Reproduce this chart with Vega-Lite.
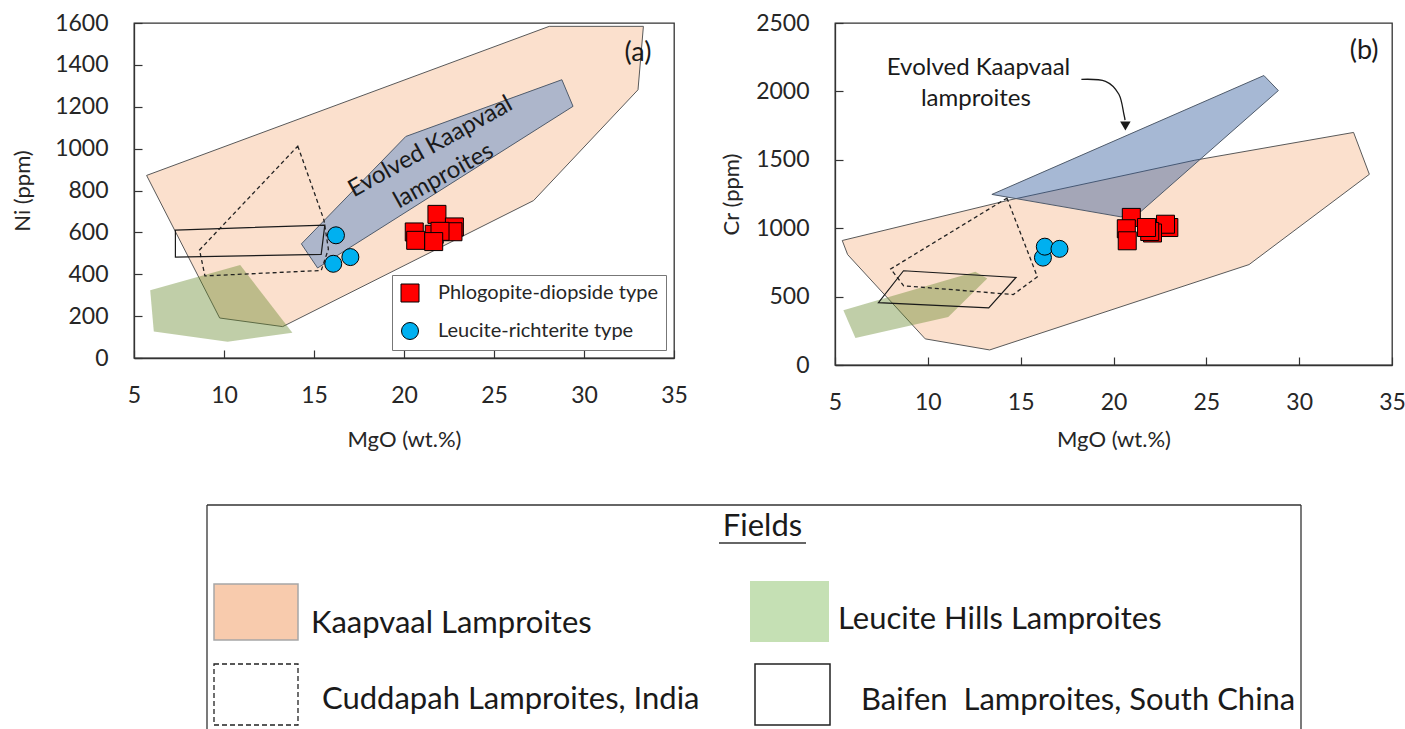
{
"$schema":"https://vega.github.io/schema/vega-lite/v6.json",
"padding":{"left":10,"top":11,"right":0,"bottom":0},
"config":{
 "font":"Lato",
 "view":{"stroke":"#333333","strokeWidth":1.3},
 "axis":{"grid":false,"domainColor":"#333333","domainWidth":1.3,"tickColor":"#333333","tickWidth":1.2,"tickSize":-8,"labelFont":"Lato","labelFontSize":23,"labelColor":"#262626","titleFont":"Lato","titleFontSize":22,"titleFontWeight":"normal","titleColor":"#262626","labelFlush":false,"labelOverlap":false,"labelPadding":34,"format":"d"}
},
"datasets":{
 "polyA":[
  {"p":"K","i":0,"mgo":5.7,"ni":872},{"p":"K","i":1,"mgo":28.07,"ni":1584},{"p":"K","i":2,"mgo":33.3,"ni":1584},{"p":"K","i":3,"mgo":33.0,"ni":1281},{"p":"K","i":4,"mgo":27.2,"ni":752},{"p":"K","i":5,"mgo":13.26,"ni":150},{"p":"K","i":6,"mgo":9.76,"ni":191},
  {"p":"L","i":0,"mgo":5.9,"ni":323},{"p":"L","i":1,"mgo":10.9,"ni":444},{"p":"L","i":2,"mgo":13.8,"ni":121},{"p":"L","i":3,"mgo":10.2,"ni":78},{"p":"L","i":4,"mgo":6.1,"ni":126},
  {"p":"E","i":0,"mgo":14.3,"ni":545},{"p":"E","i":1,"mgo":20.1,"ni":1058},{"p":"E","i":2,"mgo":28.77,"ni":1329},{"p":"E","i":3,"mgo":29.39,"ni":1202},{"p":"E","i":4,"mgo":15.2,"ni":430},
  {"p":"C","i":0,"mgo":14.1,"ni":1012},{"p":"C","i":1,"mgo":15.55,"ni":660},{"p":"C","i":2,"mgo":15.8,"ni":520},{"p":"C","i":3,"mgo":15.4,"ni":418},{"p":"C","i":4,"mgo":8.94,"ni":392},{"p":"C","i":5,"mgo":8.64,"ni":516},
  {"p":"B","i":0,"mgo":7.3,"ni":611},{"p":"B","i":1,"mgo":15.6,"ni":635},{"p":"B","i":2,"mgo":15.4,"ni":495},{"p":"B","i":3,"mgo":7.3,"ni":482}
 ],
 "polyB":[
  {"p":"K","i":0,"mgo":5.39,"cr":910},{"p":"K","i":1,"mgo":5.68,"cr":807},{"p":"K","i":2,"mgo":9.86,"cr":191},{"p":"K","i":3,"mgo":13.33,"cr":110},{"p":"K","i":4,"mgo":27.3,"cr":734},{"p":"K","i":5,"mgo":33.78,"cr":1394},{"p":"K","i":6,"mgo":32.93,"cr":1700},{"p":"K","i":7,"mgo":24.38,"cr":1497},{"p":"K","i":8,"mgo":14.3,"cr":1203},
  {"p":"L","i":0,"mgo":5.45,"cr":400},{"p":"L","i":1,"mgo":12.56,"cr":682},{"p":"L","i":2,"mgo":13.2,"cr":632},{"p":"L","i":3,"mgo":11.1,"cr":351},{"p":"L","i":4,"mgo":6.1,"cr":197},
  {"p":"E","i":0,"mgo":13.45,"cr":1247},{"p":"E","i":1,"mgo":28.1,"cr":2116},{"p":"E","i":2,"mgo":28.88,"cr":2006},{"p":"E","i":3,"mgo":21.5,"cr":1125},{"p":"E","i":4,"mgo":20.4,"cr":1083},
  {"p":"C","i":0,"mgo":14.26,"cr":1220},{"p":"C","i":1,"mgo":15.9,"cr":645},{"p":"C","i":2,"mgo":14.6,"cr":515},{"p":"C","i":3,"mgo":8.7,"cr":579},{"p":"C","i":4,"mgo":8.0,"cr":702},
  {"p":"B","i":0,"mgo":8.69,"cr":689},{"p":"B","i":1,"mgo":14.75,"cr":640},{"p":"B","i":2,"mgo":13.28,"cr":417},{"p":"B","i":3,"mgo":7.34,"cr":456}
 ],
 "ptsA":[
  {"type":"Leucite-richterite type","mgo":16.22,"ni":586},{"type":"Leucite-richterite type","mgo":16.07,"ni":450},{"type":"Leucite-richterite type","mgo":17.02,"ni":482},
  {"type":"Phlogopite-diopside type","mgo":21.83,"ni":686},{"type":"Phlogopite-diopside type","mgo":22.8,"ni":626},{"type":"Phlogopite-diopside type","mgo":20.57,"ni":602},{"type":"Phlogopite-diopside type","mgo":22.72,"ni":603},{"type":"Phlogopite-diopside type","mgo":21.68,"ni":591},{"type":"Phlogopite-diopside type","mgo":22.0,"ni":605},{"type":"Phlogopite-diopside type","mgo":20.65,"ni":562},{"type":"Phlogopite-diopside type","mgo":21.65,"ni":556}
 ],
 "ptsB":[
  {"type":"Leucite-richterite type","mgo":16.2,"cr":785},{"type":"Leucite-richterite type","mgo":16.3,"cr":865},{"type":"Leucite-richterite type","mgo":17.09,"cr":849},
  {"type":"Phlogopite-diopside type","mgo":22.98,"cr":1005},{"type":"Phlogopite-diopside type","mgo":22.8,"cr":1029},{"type":"Phlogopite-diopside type","mgo":22.1,"cr":965},{"type":"Phlogopite-diopside type","mgo":21.95,"cr":976},{"type":"Phlogopite-diopside type","mgo":20.96,"cr":1079},{"type":"Phlogopite-diopside type","mgo":21.78,"cr":1005},{"type":"Phlogopite-diopside type","mgo":20.69,"cr":996},{"type":"Phlogopite-diopside type","mgo":20.74,"cr":908}
 ],
 "arrowB":[
  {"i":0,"mgo":18.27,"cr":2088},{"i":1,"mgo":19.57,"cr":2074},{"i":2,"mgo":20.29,"cr":1979},{"i":3,"mgo":20.56,"cr":1833},{"i":4,"mgo":20.62,"cr":1790}
 ],
 "swatches":[
  {"s":"K","x0":80,"x1":164,"y0":79,"y1":135},
  {"s":"L","x0":616,"x1":695,"y0":76,"y1":137},
  {"s":"C","x0":80,"x1":164,"y0":159,"y1":220},
  {"s":"B","x0":621,"x1":696,"y0":159,"y1":220}
 ],
 "boxlines":[
  {"x0":73,"x1":73,"y0":0,"y1":224},
  {"x0":73,"x1":1167,"y0":0,"y1":0},
  {"x0":1167,"x1":1167,"y0":0,"y1":224},
  {"x0":585,"x1":672,"y0":38,"y1":38}
 ],
 "labels":[
  {"x":177,"y":128,"t":"Kaapvaal Lamproites"},
  {"x":704,"y":124,"t":"Leucite Hills Lamproites"},
  {"x":188,"y":204,"t":"Cuddapah Lamproites, India"},
  {"x":727,"y":205,"t":"Baifen\u00a0 Lamproites, South China"}
 ]
},
"spacing":52,
"vconcat":[
 {"hconcat":[
  {"width":540,"height":335,
   "layer":[
    {"data":{"name":"polyA"},"transform":[{"filter":"datum.p==='K'"}],
     "mark":{"type":"line","interpolate":"linear-closed","fill":"#F4B183","fillOpacity":0.4,"stroke":"#595959","strokeWidth":1},
     "encoding":{
      "x":{"field":"mgo","type":"quantitative","scale":{"domain":[5,35],"nice":false,"zero":false},"axis":{"values":[5,10,15,20,25,30,35],"title":"MgO (wt.%)","titlePadding":22}},
      "y":{"field":"ni","type":"quantitative","scale":{"domain":[0,1600],"nice":false},"axis":{"values":[0,200,400,600,800,1000,1200,1400,1600],"title":"Ni (ppm)","titlePadding":20}},
      "order":{"field":"i","type":"quantitative"}}},
    {"data":{"name":"polyA"},"transform":[{"filter":"datum.p==='L'"}],
     "mark":{"type":"line","interpolate":"linear-closed","fill":"#628526","fillOpacity":0.4,"strokeOpacity":0},
     "encoding":{"x":{"field":"mgo","type":"quantitative"},"y":{"field":"ni","type":"quantitative"},"order":{"field":"i","type":"quantitative"}}},
    {"data":{"name":"polyA"},"transform":[{"filter":"datum.p==='E'"}],
     "mark":{"type":"line","interpolate":"linear-closed","fill":"#3A78C8","fillOpacity":0.4,"stroke":"#4F5B6B","strokeWidth":1},
     "encoding":{"x":{"field":"mgo","type":"quantitative"},"y":{"field":"ni","type":"quantitative"},"order":{"field":"i","type":"quantitative"}}},
    {"data":{"name":"polyA"},"transform":[{"filter":"datum.p==='C'"}],
     "mark":{"type":"line","interpolate":"linear-closed","stroke":"#222222","strokeWidth":1.3,"strokeDash":[4,3]},
     "encoding":{"x":{"field":"mgo","type":"quantitative"},"y":{"field":"ni","type":"quantitative"},"order":{"field":"i","type":"quantitative"}}},
    {"data":{"name":"polyA"},"transform":[{"filter":"datum.p==='B'"}],
     "mark":{"type":"line","interpolate":"linear-closed","stroke":"#1a1a1a","strokeWidth":1.2},
     "encoding":{"x":{"field":"mgo","type":"quantitative"},"y":{"field":"ni","type":"quantitative"},"order":{"field":"i","type":"quantitative"}}},
    {"data":{"name":"ptsA"},
     "mark":{"type":"point","filled":true,"opacity":1,"stroke":"#000000","strokeWidth":1},
     "encoding":{"x":{"field":"mgo","type":"quantitative"},"y":{"field":"ni","type":"quantitative"},
      "color":{"field":"type","type":"nominal","scale":{"domain":["Phlogopite-diopside type","Leucite-richterite type"],"range":["#FF0000","#00B0F0"]},
        "legend":{"title":null,"orient":"bottom-right","offset":8,"strokeColor":"#777777","fillColor":"#ffffff","padding":8,"labelFontSize":20,"labelFont":"Lato","labelColor":"#262626","labelLimit":0,"symbolSize":361,"symbolStrokeColor":"#000000","symbolStrokeWidth":1,"rowPadding":16,"labelOffset":18}},
      "shape":{"field":"type","type":"nominal","scale":{"domain":["Phlogopite-diopside type","Leucite-richterite type"],"range":["square","circle"]},
        "legend":{"title":null,"orient":"bottom-right","offset":8,"strokeColor":"#777777","fillColor":"#ffffff","padding":8,"labelFontSize":20,"labelFont":"Lato","labelColor":"#262626","labelLimit":0,"symbolSize":361,"symbolStrokeColor":"#000000","symbolStrokeWidth":1,"rowPadding":16,"labelOffset":18}},
      "size":{"field":"type","type":"nominal","scale":{"domain":["Phlogopite-diopside type","Leucite-richterite type"],"range":[324,289]},"legend":null}}},
    {"data":{"values":[{"mgo":33.0,"ni":1457,"t":"(a)"}]},
     "mark":{"type":"text","fontSize":27,"font":"Lato","color":"#1a1a1a"},
     "encoding":{"x":{"field":"mgo","type":"quantitative"},"y":{"field":"ni","type":"quantitative"},"text":{"field":"t"}}},
    {"data":{"values":[{"mgo":21.47,"ni":1008,"t":"Evolved Kaapvaal"},{"mgo":22.2,"ni":869,"t":"lamproites"}]},
     "mark":{"type":"text","fontSize":24,"font":"Lato","color":"#1a1a1a","angle":331},
     "encoding":{"x":{"field":"mgo","type":"quantitative"},"y":{"field":"ni","type":"quantitative"},"text":{"field":"t"}}}
   ]},
  {"width":557,"height":342,
   "layer":[
    {"data":{"name":"polyB"},"transform":[{"filter":"datum.p==='K'"}],
     "mark":{"type":"line","interpolate":"linear-closed","fill":"#F4B183","fillOpacity":0.4,"stroke":"#595959","strokeWidth":1},
     "encoding":{
      "x":{"field":"mgo","type":"quantitative","scale":{"domain":[5,35],"nice":false,"zero":false},"axis":{"values":[5,10,15,20,25,30,35],"title":"MgO (wt.%)","titlePadding":15}},
      "y":{"field":"cr","type":"quantitative","scale":{"domain":[0,2500],"nice":false},"axis":{"values":[0,500,1000,1500,2000,2500],"title":"Cr (ppm)","titlePadding":12}},
      "order":{"field":"i","type":"quantitative"}}},
    {"data":{"name":"polyB"},"transform":[{"filter":"datum.p==='L'"}],
     "mark":{"type":"line","interpolate":"linear-closed","fill":"#628526","fillOpacity":0.4,"strokeOpacity":0},
     "encoding":{"x":{"field":"mgo","type":"quantitative"},"y":{"field":"cr","type":"quantitative"},"order":{"field":"i","type":"quantitative"}}},
    {"data":{"name":"polyB"},"transform":[{"filter":"datum.p==='E'"}],
     "mark":{"type":"line","interpolate":"linear-closed","fill":"#2A5599","fillOpacity":0.42,"stroke":"#4F5B6B","strokeWidth":1},
     "encoding":{"x":{"field":"mgo","type":"quantitative"},"y":{"field":"cr","type":"quantitative"},"order":{"field":"i","type":"quantitative"}}},
    {"data":{"name":"polyB"},"transform":[{"filter":"datum.p==='C'"}],
     "mark":{"type":"line","interpolate":"linear-closed","stroke":"#222222","strokeWidth":1.3,"strokeDash":[4,3]},
     "encoding":{"x":{"field":"mgo","type":"quantitative"},"y":{"field":"cr","type":"quantitative"},"order":{"field":"i","type":"quantitative"}}},
    {"data":{"name":"polyB"},"transform":[{"filter":"datum.p==='B'"}],
     "mark":{"type":"line","interpolate":"linear-closed","stroke":"#1a1a1a","strokeWidth":1.2},
     "encoding":{"x":{"field":"mgo","type":"quantitative"},"y":{"field":"cr","type":"quantitative"},"order":{"field":"i","type":"quantitative"}}},
    {"data":{"name":"ptsB"},
     "mark":{"type":"point","filled":true,"opacity":1,"stroke":"#000000","strokeWidth":1},
     "encoding":{"x":{"field":"mgo","type":"quantitative"},"y":{"field":"cr","type":"quantitative"},
      "color":{"field":"type","type":"nominal","scale":{"domain":["Phlogopite-diopside type","Leucite-richterite type"],"range":["#FF0000","#00B0F0"]},"legend":null},
      "shape":{"field":"type","type":"nominal","scale":{"domain":["Phlogopite-diopside type","Leucite-richterite type"],"range":["square","circle"]},"legend":null},
      "size":{"field":"type","type":"nominal","scale":{"domain":["Phlogopite-diopside type","Leucite-richterite type"],"range":[324,289]},"legend":null}}},
    {"data":{"name":"arrowB"},
     "mark":{"type":"line","interpolate":"cardinal","stroke":"#1a1a1a","strokeWidth":1.3},
     "encoding":{"x":{"field":"mgo","type":"quantitative"},"y":{"field":"cr","type":"quantitative"},"order":{"field":"i","type":"quantitative"}}},
    {"data":{"values":[{"mgo":20.64,"cr":1747}]},
     "mark":{"type":"point","shape":"triangle-down","filled":true,"color":"#1a1a1a","opacity":1,"size":110},
     "encoding":{"x":{"field":"mgo","type":"quantitative"},"y":{"field":"cr","type":"quantitative"}}},
    {"data":{"values":[{"mgo":33.5,"cr":2295,"t":"(b)"}]},
     "mark":{"type":"text","fontSize":27,"font":"Lato","color":"#1a1a1a"},
     "encoding":{"x":{"field":"mgo","type":"quantitative"},"y":{"field":"cr","type":"quantitative"},"text":{"field":"t"}}},
    {"data":{"values":[{"mgo":12.73,"cr":2173,"t":"Evolved Kaapvaal"},{"mgo":12.59,"cr":1944,"t":"lamproites"}]},
     "mark":{"type":"text","fontSize":24,"font":"Lato","color":"#1a1a1a"},
     "encoding":{"x":{"field":"mgo","type":"quantitative"},"y":{"field":"cr","type":"quantitative"},"text":{"field":"t"}}}
   ]}
 ],
 "spacing":31,
 "resolve":{"scale":{"color":"independent","shape":"independent","size":"independent"},"legend":{"color":"independent","shape":"independent","size":"independent"}}},
 {"width":1270,"height":224,
  "view":{"stroke":"#ffffff"},
  "layer":[
   {"data":{"name":"boxlines"},
    "mark":{"type":"rule","stroke":"#333333","strokeWidth":1.3},
    "encoding":{"x":{"field":"x0","type":"quantitative","scale":{"domain":[0,1270],"nice":false,"zero":false},"axis":null},"x2":{"field":"x1"},
     "y":{"field":"y0","type":"quantitative","scale":{"domain":[0,224],"nice":false,"reverse":true},"axis":null},"y2":{"field":"y1"}}},
   {"data":{"name":"swatches"},"transform":[{"filter":"datum.s==='K'"}],
    "mark":{"type":"rect","fill":"#F8CBAD","stroke":"#A6A6A6","strokeWidth":1.5},
    "encoding":{"x":{"field":"x0","type":"quantitative"},"x2":{"field":"x1"},"y":{"field":"y0","type":"quantitative"},"y2":{"field":"y1"}}},
   {"data":{"name":"swatches"},"transform":[{"filter":"datum.s==='L'"}],
    "mark":{"type":"rect","fill":"#C5E0B4"},
    "encoding":{"x":{"field":"x0","type":"quantitative"},"x2":{"field":"x1"},"y":{"field":"y0","type":"quantitative"},"y2":{"field":"y1"}}},
   {"data":{"name":"swatches"},"transform":[{"filter":"datum.s==='C'"}],
    "mark":{"type":"rect","fill":null,"fillOpacity":0,"stroke":"#222222","strokeWidth":1.3,"strokeDash":[5,3]},
    "encoding":{"x":{"field":"x0","type":"quantitative"},"x2":{"field":"x1"},"y":{"field":"y0","type":"quantitative"},"y2":{"field":"y1"}}},
   {"data":{"name":"swatches"},"transform":[{"filter":"datum.s==='B'"}],
    "mark":{"type":"rect","fill":null,"fillOpacity":0,"stroke":"#222222","strokeWidth":1.5},
    "encoding":{"x":{"field":"x0","type":"quantitative"},"x2":{"field":"x1"},"y":{"field":"y0","type":"quantitative"},"y2":{"field":"y1"}}},
   {"data":{"name":"labels"},
    "mark":{"type":"text","align":"left","baseline":"alphabetic","fontSize":31,"font":"Lato","color":"#1a1a1a"},
    "encoding":{"x":{"field":"x","type":"quantitative"},"y":{"field":"y","type":"quantitative"},"text":{"field":"t"}}},
   {"data":{"values":[{"x":628.5,"y":31,"t":"Fields"}]},
    "mark":{"type":"text","align":"center","baseline":"alphabetic","fontSize":31,"font":"Lato","color":"#1a1a1a"},
    "encoding":{"x":{"field":"x","type":"quantitative"},"y":{"field":"y","type":"quantitative"},"text":{"field":"t"}}}
  ]}
]
}
